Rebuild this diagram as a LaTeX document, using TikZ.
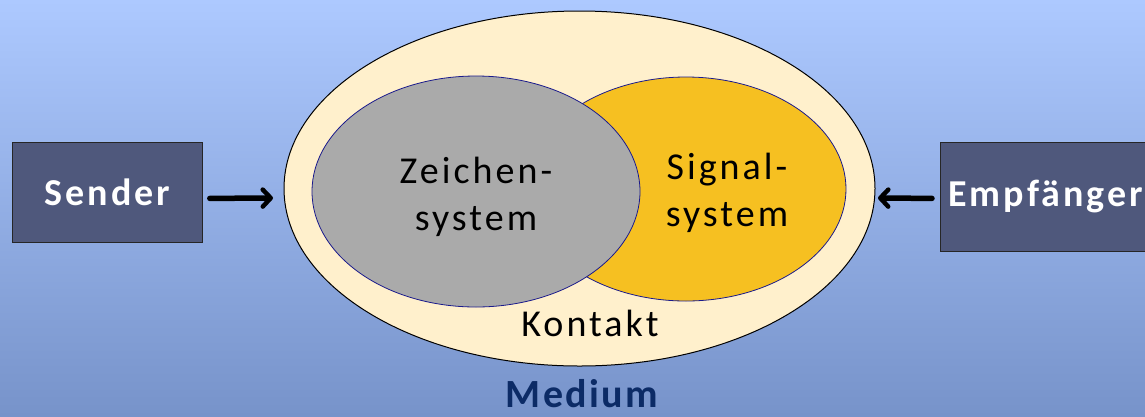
\documentclass[tikz,border=0pt]{standalone}
\usepackage{fontspec}
\setmainfont{Carlito}
\usetikzlibrary{arrows.meta}
\definecolor{bgtop}{HTML}{ADC9FF}
\definecolor{bgbot}{HTML}{7793CA}
\definecolor{boxfill}{HTML}{4F587C}
\definecolor{contact}{HTML}{FFF0CC}
\definecolor{signs}{HTML}{AAAAAA}
\definecolor{signals}{HTML}{F6C021}
\definecolor{rim}{HTML}{1A1A8C}
\definecolor{mediumblue}{HTML}{0C2B66}
\tikzset{
  x=1pt, y=-1pt,
  party/.style={draw=black!85, line width=0.8pt, fill=boxfill, text=white,
    font=\fontsize{38}{44}\selectfont\bfseries\addfontfeatures{LetterSpace=8},
    anchor=north west, inner sep=0pt},
  inner/.style={draw=rim, line width=0.8pt},
  lbl/.style={font=\fontsize{38}{47}\selectfont\addfontfeatures{LetterSpace=8},
    align=center, inner sep=0pt},
  flow/.style={line width=5.5pt, line cap=round,
    -{Straight Barb[length=8pt,width=17pt,line width=4.5pt,round]}},
}
\begin{document}
\begin{tikzpicture}
  \useasboundingbox (0,0) rectangle (1145,416);
  \shade[top color=bgtop, bottom color=bgbot] (0,0) rectangle (1145,416);

  % contact area and the two overlapping systems
  \draw[fill=contact, line width=1pt] (579.5,188.5) ellipse [x radius=295.5, y radius=177.5];
  \coordinate (sTip) at (273,198);
  \coordinate (rTip) at (878,198);
  \fill[signals] (686,189) ellipse [x radius=160, y radius=112];
  \draw[inner] (686,189) ellipse [x radius=160, y radius=112];
  \fill[signs] (476,191.5) ellipse [x radius=164, y radius=115.5];
  \draw[inner] (476,191.5) ellipse [x radius=164, y radius=115.5];

  \node[lbl] (zs) at (476,197) {Zeichen-\\system};
  \node[lbl] (ss) at (727,193) {Signal-\\system};
  \node[lbl, anchor=base] (kt) at (590,336) {Kontakt};

  % sender and receiver
  \node[party, minimum width=190pt, minimum height=100pt] (snd) at (12,142) {Sender};
  \node[party, minimum width=220pt, minimum height=109pt, text width=220pt, align=left] (rcv) at (940,142) {\hspace*{8pt}Empfänger};

  \draw[flow] (snd.east) ++(7,6) -- (sTip);
  \draw[flow] (rcv.west) ++(-8,1.5) -- (rTip);

  \node[font=\fontsize{40}{44}\selectfont\bfseries\addfontfeatures{LetterSpace=6},
    text=mediumblue, anchor=base, inner sep=0pt] (med) at (582,407) {Medium};
\end{tikzpicture}
\end{document}
